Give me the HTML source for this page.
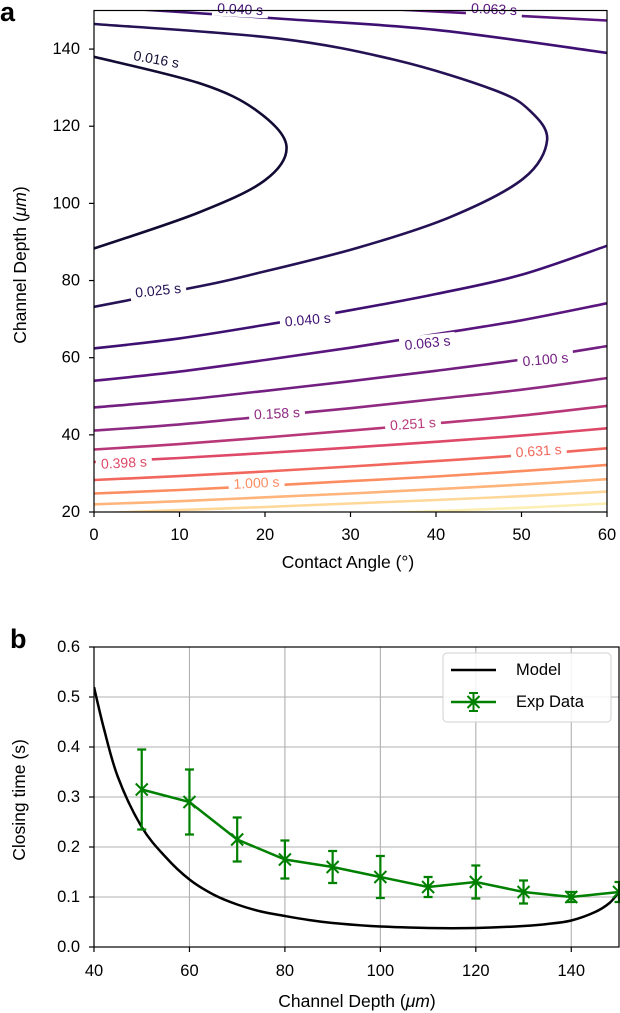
<!DOCTYPE html>
<html><head><meta charset="utf-8"><style>
html,body{margin:0;padding:0;background:#fff;}
svg{display:block;font-family:"Liberation Sans",Arial,sans-serif;}
</style></head><body>
<svg id="fig" width="620" height="1013" viewBox="0 0 620 1013" xmlns="http://www.w3.org/2000/svg">
<defs>
<clipPath id="clipA"><rect x="94" y="10.5" width="513" height="501.5"/></clipPath>
<clipPath id="clipB"><rect x="94" y="647" width="525" height="300"/></clipPath>
</defs>
<text x="0" y="21" font-size="27" font-weight="bold">a</text>
<text x="10" y="648" font-size="27" font-weight="bold">b</text>
<g id="panelA"></g>
<g id="panelB"></g>
</svg>
<script>
// ---------- Panel A data ----------
const levelNames = ["0.016","0.025","0.040","0.040u","0.063","0.063u","0.100","0.158","0.251","0.398","0.631","1.000","1.585","2.512","3.981"];
const levelColors = ["#120b33","#251255","#3e1072","#3e1072","#5a167e","#5a167e","#731f81","#8e2a81","#b73779","#de4968","#f1675d","#fb8d61","#feb47b","#fed799","#fcefb4"];
const c016 = [[0,88.3],[12.1,97.5],[20,106],[22.5,115],[19,124.1],[12.4,131.1],[0,138]];
const c025 = [[0,73.2],[12.6,78.6],[18.2,81.4],[30.7,88.4],[41.6,96.4],[50.2,106.4],[53,116.4],[51,124],[46.8,129.4],[35.2,137.2],[21.4,142.8],[0,146.5]];
const c040 = [[0,62.4],[10,65],[20,68.5],[30,72.3],[40,76.5],[50,81.5],[60,89]];
const c040u = [[0,151],[8.9,149.8],[22.3,147.8],[39.9,145],[60,139]];
const c063 = [[0,54],[10,56.4],[20,59.4],[30,62.6],[40,66.1],[50,69.7],[60,74.1]];
const c063u = [[35,150.3],[39.6,149.8],[60,147.4]];
const c100 = [[0,47.1],[10,49.0],[20,51.4],[30,53.9],[40,56.6],[50,59.5],[60,63.0]];
const c158 = [[0,41.1],[10,42.7],[20,44.8],[30,46.9],[40,49.3],[50,51.7],[60,54.7]];
const c251 = [[0,36.2],[10,37.6],[20,39.3],[30,41.1],[40,43.0],[50,45.0],[60,47.5]];
const c398 = [[0,33.0],[10,34.0],[20,35.3],[30,36.7],[40,38.2],[50,39.8],[60,41.7]];
const c631 = [[0,28.3],[10,29.3],[20,30.5],[30,31.8],[40,33.2],[50,34.7],[60,36.5]];
const c1000 = [[0,24.8],[10,25.7],[20,26.8],[30,28.0],[40,29.2],[50,30.6],[60,32.2]];
const c1585 = [[0,22.0],[10,22.8],[20,23.8],[30,24.8],[40,25.9],[50,27.1],[60,28.5]];
const c2512 = [[0,19.6],[10,20.5],[20,21.3],[30,22.2],[40,23.1],[50,24.1],[60,25.3]];
const c3981 = [[30,19.5],[40,20.2],[50,21.1],[60,22.2]];
const contourSets = [c016,c025,c040,c040u,c063,c063u,c100,c158,c251,c398,c631,c1000,c1585,c2512,c3981];
const labelText = ["0.016 s","0.040 s","0.063 s","0.025 s","0.040 s","0.063 s","0.100 s","0.158 s","0.251 s","0.398 s","0.631 s","1.000 s"];
const labelAngle = [7.3,17.1,46.8,7.5,25,39,52.8,21.4,37.3,3.5,52,19];
const labelDepth = [137.4,150.4,150.4,77.5,69.9,63.9,59.6,45.6,42.9,32.8,35.9,27.6];
const labelRot = [10,3,3,-6,-5,-6,-5,-3,-4,-3,-4,-3];
const labelColor = ["#120b33","#3e1072","#5a167e","#251255","#3e1072","#5a167e","#731f81","#8e2a81","#b73779","#de4968","#f1675d","#fb8d61"];
const xTicksA = [0,10,20,30,40,50,60];
const yTicksA = [20,40,60,80,100,120,140];

// ---------- Panel B data ----------
const modelDepth = [40,42,45,50,55,60,65,70,75,80,85,90,95,100,110,120,130,135,140,145,148,150];
const modelTime  = [0.52,0.44,0.34,0.24,0.18,0.135,0.105,0.085,0.071,0.062,0.054,0.048,0.044,0.041,0.038,0.038,0.042,0.046,0.053,0.070,0.088,0.11];
const expDepth = [50,60,70,80,90,100,110,120,130,140,150];
const expTime  = [0.315,0.29,0.215,0.175,0.16,0.14,0.12,0.13,0.11,0.10,0.11];
const expErr   = [0.08,0.065,0.044,0.038,0.032,0.042,0.02,0.033,0.023,0.01,0.02];
const xTicksB = [40,60,80,100,120,140];
const yTicksB = [0.0,0.1,0.2,0.3,0.4,0.5,0.6];

const NS="http://www.w3.org/2000/svg";
const TICK=16.5, TITLE=17.5, CLAB=14;
function mk(tag, parent, attrs){const e=document.createElementNS(NS,tag);for(const k in attrs)e.setAttribute(k,attrs[k]);parent.appendChild(e);return e;}
function smooth(pts){
  if(pts.length<3){return "M"+pts.map(p=>p[0].toFixed(1)+","+p[1].toFixed(1)).join(" L");}
  let d="M"+pts[0][0].toFixed(1)+","+pts[0][1].toFixed(1);
  for(let i=0;i<pts.length-1;i++){
    const p0=pts[Math.max(0,i-1)],p1=pts[i],p2=pts[i+1],p3=pts[Math.min(pts.length-1,i+2)];
    const c1=[p1[0]+(p2[0]-p0[0])/6,p1[1]+(p2[1]-p0[1])/6];
    const c2=[p2[0]-(p3[0]-p1[0])/6,p2[1]-(p3[1]-p1[1])/6];
    d+=" C"+c1[0].toFixed(1)+","+c1[1].toFixed(1)+" "+c2[0].toFixed(1)+","+c2[1].toFixed(1)+" "+p2[0].toFixed(1)+","+p2[1].toFixed(1);
  }
  return d;
}

// ---- Panel A ----
const A=document.getElementById('panelA');
const ax=v=>94+(v-0)/60*513;
const ay=v=>512-(v-20)/130*501.5;
const gA=mk('g',A,{'clip-path':'url(#clipA)'});


contourSets.forEach((set,i)=>{
  const p=mk('path',gA,{d:smooth(set.map(q=>[ax(q[0]),ay(q[1])])),fill:'none',stroke:levelColors[i],'stroke-width':2.6,'stroke-linecap':'butt'});
  
  
});
labelText.forEach((t,i)=>{
  const x=ax(labelAngle[i]),y=ay(labelDepth[i]);
  const g=mk('g',A,{transform:'rotate('+labelRot[i]+' '+x+' '+y+')'});
  
  
  const bg=mk('rect',g,{x:x-30,y:y-8,width:60,height:16,fill:'#fff'});
  
  
  const e=mk('text',g,{x:x,y:y,'font-size':CLAB,'text-anchor':'middle','dominant-baseline':'central',fill:labelColor[i]});
  e.textContent=t;
  
  
  const w=e.getComputedTextLength?e.getComputedTextLength():50;
  bg.setAttribute('x',x-w/2-5);
  bg.setAttribute('width',w+10);
});
const frA=mk('rect',A,{x:94,y:10.5,width:513,height:501.5,fill:'none',stroke:'#000','stroke-width':1.2});


xTicksA.forEach(v=>{
  const l=mk('line',A,{x1:ax(v),x2:ax(v),y1:512,y2:517,stroke:'#000','stroke-width':1.2});
  
  
  const t=mk('text',A,{x:ax(v),y:535,'font-size':TICK,'text-anchor':'middle','dominant-baseline':'central'});
  t.textContent=v;
  
  
});
yTicksA.forEach(v=>{
  const l=mk('line',A,{x1:89,x2:94,y1:ay(v),y2:ay(v),stroke:'#000','stroke-width':1.2});
  
  
  const t=mk('text',A,{x:80,y:ay(v),'font-size':TICK,'text-anchor':'end','dominant-baseline':'central'});
  t.textContent=v;
  
  
});
let tA=mk('text',A,{x:348,y:562,'font-size':TITLE,'text-anchor':'middle','dominant-baseline':'central'});
tA.textContent='Contact Angle (°)';


let tAy=mk('text',A,{x:20,y:265,'font-size':TITLE,'text-anchor':'middle','dominant-baseline':'central',transform:'rotate(-90 20 265)'});
tAy.innerHTML='Channel Depth (<tspan font-style="italic">μm</tspan>)';



// ---- Panel B ----
const B=document.getElementById('panelB');
const bx=v=>94+(v-40)/110*525;
const by=v=>947-v/0.6*300;
xTicksB.forEach(v=>{
  const g=mk('line',B,{x1:bx(v),x2:bx(v),y1:647,y2:947,stroke:'#b0b0b0','stroke-width':1.1});
  
  
});
yTicksB.forEach(v=>{
  const g=mk('line',B,{x1:94,x2:619,y1:by(v),y2:by(v),stroke:'#b0b0b0','stroke-width':1.1});
  
  
});
const gB=mk('g',B,{'clip-path':'url(#clipB)'});
const mp=mk('path',gB,{d:smooth(modelDepth.map((d,i)=>[bx(d),by(modelTime[i])])),fill:'none',stroke:'#000','stroke-width':2.5});


const gE=mk('g',B,{});


const ep=mk('polyline',gE,{points:expDepth.map((d,i)=>bx(d)+','+by(expTime[i])).join(' '),fill:'none',stroke:'#008000','stroke-width':2.5});


expDepth.forEach((d,i)=>{
  const x=bx(d),y1=by(expTime[i]+expErr[i]),y2=by(expTime[i]-expErr[i]),y=by(expTime[i]);
  const eb=mk('path',gE,{d:`M${x},${y1} V${y2} M${x-4.5},${y1} H${x+4.5} M${x-4.5},${y2} H${x+4.5}`,stroke:'#008000','stroke-width':2.2,fill:'none'});
  
  
  const m=mk('path',gE,{d:`M${x-6},${y-6} L${x+6},${y+6} M${x-6},${y+6} L${x+6},${y-6}`,stroke:'#008000','stroke-width':2,fill:'none'});
  
  
});
const frB=mk('rect',B,{x:94,y:647,width:525,height:300,fill:'none',stroke:'#000','stroke-width':1.2});


xTicksB.forEach(v=>{
  const l=mk('line',B,{x1:bx(v),x2:bx(v),y1:947,y2:952,stroke:'#000','stroke-width':1.2});
  
  
  const t=mk('text',B,{x:bx(v),y:971,'font-size':TICK,'text-anchor':'middle','dominant-baseline':'central'});
  t.textContent=v;
  
  
});
yTicksB.forEach(v=>{
  const l=mk('line',B,{x1:89,x2:94,y1:by(v),y2:by(v),stroke:'#000','stroke-width':1.2});
  
  
  const t=mk('text',B,{x:80,y:by(v),'font-size':TICK,'text-anchor':'end','dominant-baseline':'central'});
  t.textContent=v.toFixed(1);
  
  
});
let tB=mk('text',B,{x:357,y:1001,'font-size':TITLE,'text-anchor':'middle','dominant-baseline':'central'});
tB.innerHTML='Channel Depth (<tspan font-style="italic">μm</tspan>)';


let tBy=mk('text',B,{x:19,y:800,'font-size':TITLE,'text-anchor':'middle','dominant-baseline':'central',transform:'rotate(-90 19 800)'});
tBy.textContent='Closing time (s)';


// legend
const lg=mk('g',B,{});


mk('rect',lg,{x:443,y:653,width:168,height:69,rx:4,fill:'#fff','fill-opacity':0.85,stroke:'#d0d0d0','stroke-width':1});
mk('line',lg,{x1:451,x2:496,y1:670,y2:670,stroke:'#000','stroke-width':2.5});
let l1=mk('text',lg,{x:516,y:670,'font-size':TICK,'dominant-baseline':'central'});
l1.textContent='Model';


mk('line',lg,{x1:451,x2:496,y1:702,y2:702,stroke:'#008000','stroke-width':2.5});
mk('path',lg,{d:'M473.5,693 V711 M469,693 H478 M469,711 H478 M467.5,696 L479.5,708 M467.5,708 L479.5,696',stroke:'#008000','stroke-width':2,fill:'none'});
let l2=mk('text',lg,{x:516,y:702,'font-size':TICK,'dominant-baseline':'central'});
l2.textContent='Exp Data';


</script>
</body></html>
